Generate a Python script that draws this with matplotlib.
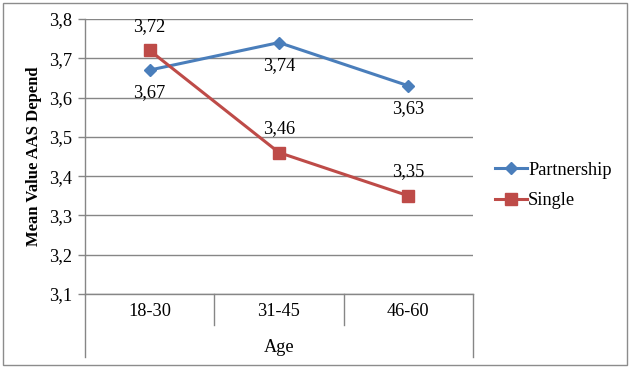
import matplotlib
matplotlib.use("Agg")
import matplotlib.pyplot as plt
from matplotlib.ticker import FuncFormatter
from matplotlib.patches import Rectangle

categories = ["18-30", "31-45", "46-60"]
partnership = [3.67, 3.74, 3.63]
single = [3.72, 3.46, 3.35]
yticks = [3.1, 3.2, 3.3, 3.4, 3.5, 3.6, 3.7, 3.8]

plt.rcParams['font.family'] = ['Liberation Serif', 'DejaVu Serif']
FS = 13.2

fig = plt.figure(figsize=(6.31, 3.68), dpi=100)
ax = fig.add_axes([85/631, 1-294/368, (473-85)/631, (294-19)/368])

fig.patches.append(Rectangle((3/631, 3/368), 624/631, 362/368, transform=fig.transFigure,
                             fill=False, edgecolor='#8c8c8c', linewidth=1.0))

x = list(range(len(categories)))
blue = '#4A7EBB'
red = '#BE4B48'
ax.plot(x, partnership, color=blue, linewidth=2.2, marker='D', markersize=6, label='Partnership', zorder=3)
ax.plot(x, single, color=red, linewidth=2.2, marker='s', markersize=8, label='Single', zorder=3)

def fmt(v):
    return f"{v:.2f}".replace('.', ',')

for xi, v in zip(x, partnership):
    ax.annotate(fmt(v), (xi, v), xytext=(0, -16.5), textcoords='offset points',
                ha='center', va='center', fontsize=FS)
for xi, v in zip(x, single):
    ax.annotate(fmt(v), (xi, v), xytext=(0, 17.5), textcoords='offset points',
                ha='center', va='center', fontsize=FS)

ax.set_xlim(-0.5, 2.5)
ax.set_ylim(3.1, 3.8)
ax.set_yticks(yticks)
ax.yaxis.set_major_formatter(FuncFormatter(lambda v, p: f"{v:.1f}".replace('.', ',')))
ax.tick_params(axis='y', labelsize=FS, length=5, color='#868686', width=1, pad=4)
ax.set_xticks([])
ax.grid(axis='y', color='#868686', linewidth=1)
ax.set_axisbelow(True)
for s in ['top', 'right']:
    ax.spines[s].set_visible(False)
ax.spines['left'].set_color('#868686')
ax.spines['bottom'].set_color('#868686')
ax.spines['left'].set_linewidth(1)
ax.spines['bottom'].set_linewidth(1)

trans = ax.get_xaxis_transform()
h = 275.0
ax.plot([-0.5, -0.5], [0, -(357-294)/h], transform=trans, color='#868686', lw=1, clip_on=False)
ax.plot([2.5, 2.5], [0, -(357-294)/h], transform=trans, color='#868686', lw=1, clip_on=False)
for d in [0.5, 1.5]:
    ax.plot([d, d], [0, -(325-294)/h], transform=trans, color='#868686', lw=1, clip_on=False)
for xi, c in zip(x, categories):
    ax.text(xi, -(312-294)/h, c, transform=trans, ha='center', va='center', fontsize=FS)
ax.text(1, -(348-294)/h, "Age", transform=trans, ha='center', va='center', fontsize=FS)

ax.set_ylabel("Mean Value AAS Depend", fontsize=12, fontweight='bold', labelpad=5)

leg = ax.legend(loc='center left', bbox_to_anchor=(1.014, 0.395), frameon=False, fontsize=FS,
                handlelength=1.75, handletextpad=0.05, labelspacing=0.72)

fig.savefig("out.png", dpi=100)
